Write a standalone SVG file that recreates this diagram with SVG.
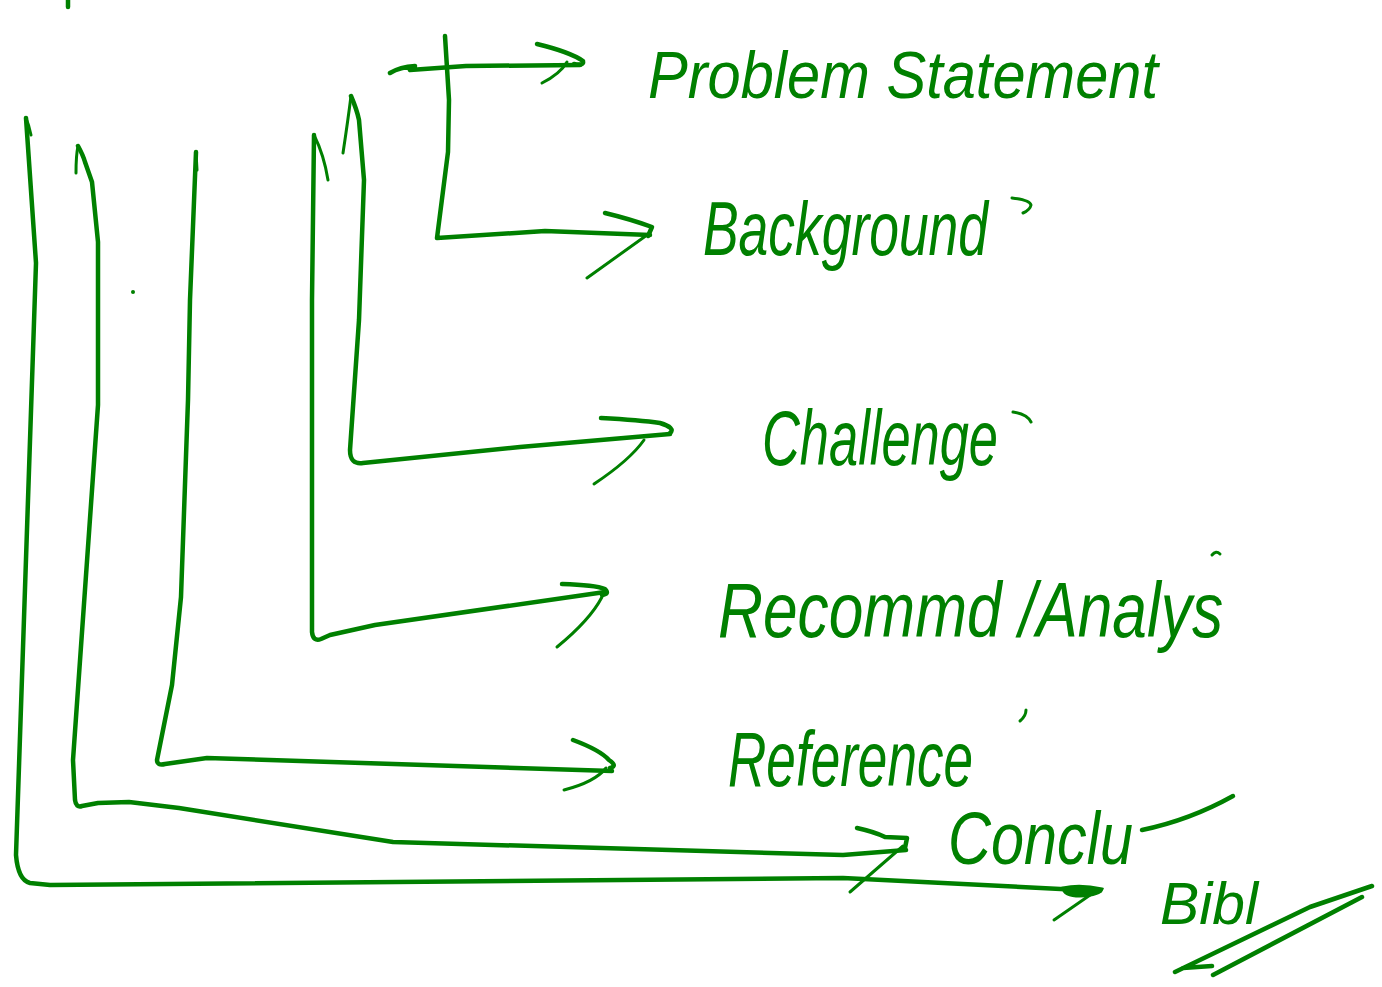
<svg xmlns="http://www.w3.org/2000/svg" width="1382" height="987" viewBox="0 0 1382 987">
  <style>
    .ink { fill: none; stroke: #008000; stroke-width: 4.5; stroke-linecap: round; stroke-linejoin: round; }
    .thin { fill: none; stroke: #008000; stroke-width: 3; stroke-linecap: round; stroke-linejoin: round; }
    .lbl { fill: #008000; font-family: "Liberation Sans", "DejaVu Sans", sans-serif; font-style: italic; }
  </style>
  <rect width="1382" height="987" fill="#ffffff"/>

  <!-- bracket connectors: one per section, each ending in a hand-drawn arrowhead -->
  <g id="connectors">
    <!-- Problem Statement -->
    <path class="ink" d="M390,73 Q400,67 415,66 L410,70 L466,66 L580,65"/>
    <path class="ink" d="M537,44 Q570,52 583,61 Q584,66 574,64"/>
    <path class="thin" d="M542,83 Q560,74 567,62"/>
    <!-- Background -->
    <path class="ink" d="M445,36 L449,100 L448,152 L437,238 L545,231 L650,235"/>
    <path class="ink" d="M605,213 Q630,219 652,227 L648,236"/>
    <path class="thin" d="M587,278 L647,235"/>
    <!-- Challenge -->
    <path class="thin" d="M343,153 Q348,120 351,96 Q357,110 359,120"/>
    <path class="ink" d="M351,96 Q357,110 359,120 L364,180 L359,320 L350,450 Q350,465 363,463 L520,447 L670,434"/>
    <path class="ink" d="M601,418 Q640,420 660,423 Q676,428 670,433"/>
    <path class="thin" d="M594,484 Q630,460 644,440"/>
    <!-- Recommend / Analysis -->
    <path class="thin" d="M314,135 Q324,155 328,180"/>
    <path class="ink" d="M314,135 L312,300 L312,632 Q313,642 321,639 L330,635 L375,625 L605,592"/>
    <path class="ink" d="M562,584 Q595,585 605,589 Q610,594 602,595"/>
    <path class="thin" d="M557,647 Q590,620 602,597"/>
    <!-- Reference -->
    <path class="thin" d="M196,152 L197,170"/>
    <path class="ink" d="M196,152 L190,300 L188,400 L181,597 L172,685 L157,760 Q157,766 165,764 L207,758 L612,771"/>
    <path class="ink" d="M573,740 Q600,750 609,760 Q618,766 610,768"/>
    <path class="thin" d="M564,790 Q595,782 606,768"/>
    <!-- Conclusion -->
    <path class="thin" d="M76,173 Q76,155 78,146 Q83,155 85,162"/>
    <path class="ink" d="M78,146 Q83,155 85,162 L92,182 L98,242 L98,405 L73,760 L75,800 Q76,808 82,806 L98,803 L129,802 L179,808 L393,842 L843,855 L906,850"/>
    <path class="ink" d="M857,828 Q875,832 885,837 L907,838 L905,848"/>
    <path class="thin" d="M850,892 L903,846"/>
    <!-- Bibliography -->
    <path class="thin" d="M26,118 Q29,125 31,135"/>
    <path class="ink" d="M26,118 L36,263 L16,855 Q18,880 30,883 L50,885 L843,878 L1100,891"/>
    <path fill="#008000" stroke="#008000" stroke-width="3" d="M1063,888 Q1080,884 1102,889 Q1100,895 1080,896 Q1064,896 1063,888 Z"/>
    <path class="thin" d="M1054,920 L1093,893"/>
  </g>

  <!-- stray pen marks -->
  <g id="marks">
    <path class="ink" d="M68,0 L68,7"/>
    <circle cx="133" cy="292" r="2" fill="#008000"/>
    <path class="thin" d="M1012,198 Q1030,200 1031,205 Q1030,210 1023,213"/>
    <path class="thin" d="M1013,412 Q1027,414 1031,422"/>
    <path class="thin" d="M1026,710 Q1026,716 1020,721"/>
    <path class="thin" d="M1212,555 Q1216,550 1220,554"/>
  </g>

  <g id="problem-statement">
    <text class="lbl" x="648" y="98" font-size="66" textLength="510" lengthAdjust="spacingAndGlyphs">Problem Statement</text>
  </g>
  <g id="background">
    <text class="lbl" x="703" y="255" font-size="76" textLength="285" lengthAdjust="spacingAndGlyphs">Background</text>
  </g>
  <g id="challenge">
    <text class="lbl" x="762" y="465" font-size="78" textLength="236" lengthAdjust="spacingAndGlyphs">Challenge</text>
  </g>
  <g id="recommend-analysis">
    <text class="lbl" x="718" y="637" font-size="78" textLength="505" lengthAdjust="spacingAndGlyphs">Recommd /Analys</text>
  </g>
  <g id="reference">
    <text class="lbl" x="728" y="786" font-size="78" textLength="245" lengthAdjust="spacingAndGlyphs">Reference</text>
  </g>
  <g id="conclusion">
    <text class="lbl" x="948" y="864" font-size="74" textLength="185" lengthAdjust="spacingAndGlyphs">Conclu</text>
    <path class="ink" d="M1142,830 Q1190,820 1233,796"/>
  </g>
  <g id="bibliography">
    <text class="lbl" x="1160" y="924" font-size="60" textLength="98" lengthAdjust="spacingAndGlyphs">Bibl</text>
    <path class="ink" d="M1175,972 L1310,907 L1372,886 M1362,897 L1213,975 M1183,968 L1212,966"/>
  </g>
</svg>
